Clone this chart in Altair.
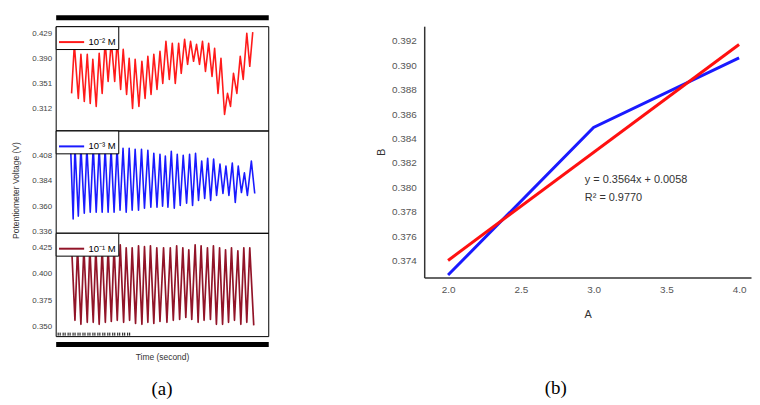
import altair as alt
import pandas as pd

# ---------------- panel (a): potentiometer voltage vs time ----------------
red_label = "10⁻² M"
red_t = [80, 94, 114, 127, 144, 159, 174, 187, 204, 219, 234, 249, 264, 280, 297, 310,
         327, 340, 357, 370, 387, 400, 419, 434, 450, 464, 480, 494, 510, 525, 539, 555,
         572, 587, 602, 619, 632, 649, 664, 679, 694, 709, 724, 739, 754, 770, 787, 800,
         817, 832, 850, 865, 880, 895, 912, 929, 944, 962, 977, 992]
red_v = [0.3354, 0.4118, 0.3276, 0.3962, 0.3229, 0.3962, 0.3198, 0.3884, 0.3151, 0.3978,
         0.3354, 0.4165, 0.3541, 0.4165, 0.3541, 0.4196, 0.3416, 0.4040, 0.3338, 0.3900,
         0.3120, 0.3884, 0.3151, 0.3853, 0.3276, 0.3931, 0.3338, 0.3962, 0.3416, 0.4009,
         0.3510, 0.4165, 0.3572, 0.4134, 0.3510, 0.4134, 0.3666, 0.4196, 0.3806, 0.4165,
         0.3853, 0.4118, 0.3806, 0.4165, 0.3697, 0.4134, 0.3619, 0.4056, 0.3354, 0.3900,
         0.3026, 0.3354, 0.3151, 0.3666, 0.3354, 0.3931, 0.3572, 0.4290, 0.3775, 0.4306]

blue_label = "10⁻³ M"
blue_t = [75, 88, 97, 114, 127, 144, 157, 174, 189, 204, 219, 234, 249, 264, 279, 294,
          309, 324, 339, 355, 370, 385, 400, 417, 432, 447, 464, 479, 494, 510, 525, 538,
          552, 565, 582, 597, 612, 627, 642, 659, 674, 689, 704, 719, 735, 750, 765, 780,
          795, 810, 827, 842, 857, 872, 889, 904, 919, 935, 950, 965, 985, 1002]
blue_v = [0.4163, 0.3480, 0.4163, 0.3508, 0.4163, 0.3535, 0.4154, 0.3545, 0.4163, 0.3545,
          0.4154, 0.3545, 0.4145, 0.3545, 0.4145, 0.3545, 0.4154, 0.3563, 0.4145, 0.3545,
          0.4145, 0.3563, 0.4135, 0.3563, 0.4135, 0.3582, 0.4126, 0.3591, 0.4098, 0.3591,
          0.4089, 0.3600, 0.4071, 0.3591, 0.4117, 0.3582, 0.4089, 0.3609, 0.4080, 0.3628,
          0.4089, 0.3609, 0.4098, 0.3655, 0.4025, 0.3674, 0.4052, 0.3655, 0.4043, 0.3702,
          0.3997, 0.3720, 0.3978, 0.3702, 0.4006, 0.3637, 0.3978, 0.3729, 0.3914, 0.3702,
          0.4025, 0.3720]

dred_label = "10⁻¹ M"
dred_t = [80, 97, 110, 127, 142, 159, 172, 189, 202, 219, 234, 250, 264, 280, 294, 310,
          325, 342, 355, 372, 385, 402, 417, 434, 447, 464, 477, 494, 509, 525, 543, 560,
          577, 592, 609, 624, 640, 655, 670, 685, 702, 717, 732, 747, 764, 779, 794, 809,
          825, 840, 855, 870, 885, 900, 917, 932, 947, 962, 977, 997]
dred_v = [0.4269, 0.3556, 0.4250, 0.3518, 0.4250, 0.3537, 0.4250, 0.3537, 0.4250, 0.3518,
          0.4250, 0.3537, 0.4250, 0.3546, 0.4269, 0.3556, 0.4279, 0.3537, 0.4250, 0.3556,
          0.4250, 0.3527, 0.4269, 0.3518, 0.4260, 0.3537, 0.4269, 0.3527, 0.4250, 0.3546,
          0.4250, 0.3537, 0.4250, 0.3556, 0.4269, 0.3565, 0.4250, 0.3584, 0.4231, 0.3565,
          0.4279, 0.3537, 0.4269, 0.3556, 0.4250, 0.3565, 0.4269, 0.3518, 0.4250, 0.3518,
          0.4231, 0.3537, 0.4250, 0.3556, 0.4221, 0.3518, 0.4250, 0.3537, 0.4250, 0.3508]

red_ticks = [0.312, 0.351, 0.390, 0.429]
blue_ticks = [0.336, 0.360, 0.384, 0.408]
dred_ticks = [0.350, 0.375, 0.400, 0.425]
inner_tick_t = [10, 22, 35, 47, 60, 72, 85, 97, 110, 122, 135, 147, 160, 172, 185,
                197, 210, 222, 235, 247, 260, 272, 285, 297, 310, 322, 335, 347, 360, 372]

# ---------------- panel (b): B vs A ----------------
b_blue_a = [2.0, 3.0, 4.0]
b_blue_b = [0.3728, 0.3849, 0.3906]
b_fit_a = [2.0, 4.0]
b_fit_b = [0.3740, 0.3917]
b_xticks = [2.0, 2.5, 3.0, 3.5, 4.0]
b_yticks = [0.374, 0.376, 0.378, 0.380, 0.382, 0.384, 0.386, 0.388, 0.390, 0.392]
annot_a = [2.94, 2.94]
annot_b = [0.3806, 0.3791]
annot_txt = ["y = 0.3564x + 0.0058", "R² = 0.9770"]

SANS = "Liberation Sans"
PW = 214


def legend():
    return alt.Legend(orient="top-left", offset=0, title=None, symbolType="stroke",
                      symbolSize=640, symbolStrokeWidth=2, labelFontSize=9.5, labelFont=SANS,
                      labelColor="black", strokeColor="black", fillColor="white",
                      padding=2, labelOffset=3, cornerRadius=0)


def yaxis(vals, title, title_y=None):
    kw = dict(values=vals, format=".3f", ticks=False, grid=False, domain=False,
              labelFontSize=8, labelFont=SANS, labelColor="#444", labelPadding=4,
              labelOverlap=False, minExtent=30, maxExtent=30, title=title,
              titleFontSize=8.5, titleFont=SANS, titleFontWeight="normal",
              titlePadding=5, titleColor="#333")
    if title_y is not None:
        kw["titleY"] = title_y
    return alt.Axis(**kw)


def panel_enc(chart, label, color, ydom, yvals, ytitle, xaxis, title_y=None):
    return chart.encode(
        x=alt.X("t:Q", scale=alt.Scale(domain=[0, 1070], nice=False, zero=False), axis=xaxis),
        y=alt.Y("v:Q", scale=alt.Scale(domain=ydom, nice=False, zero=False),
                axis=yaxis(yvals, ytitle, title_y)),
        color=alt.Color("s:N", scale=alt.Scale(domain=[label], range=[color]), legend=legend()),
    )


FRAME = alt.ViewBackground(stroke="black", strokeWidth=1)

bar_top = alt.Axis(orient="top", offset=9, domainWidth=5, domainColor="black", ticks=False,
                   labels=False, grid=False, title=None)

df_r = pd.DataFrame({"t": red_t, "v": red_v, "s": red_label})
top = panel_enc(alt.Chart(df_r).mark_line(strokeWidth=1.6, clip=True, strokeJoin="round"),
                red_label, "#ff1a1a", [0.2777, 0.4399], red_ticks, "", bar_top
                ).properties(width=PW, height=105, view=FRAME)

df_b = pd.DataFrame({"t": blue_t, "v": blue_v, "s": blue_label})
mid = panel_enc(alt.Chart(df_b).mark_line(strokeWidth=1.6, clip=True, strokeJoin="round"),
                blue_label, "#1a1aff", [0.3351, 0.4312], blue_ticks,
                "Potentiometer Voltage (V)", None, title_y=60
                ).properties(width=PW, height=103, view=FRAME)

df_d = pd.DataFrame({"t": dred_t, "v": dred_v, "s": dred_label})
bar_bottom = alt.Axis(orient="bottom", offset=8, domainWidth=5, domainColor="black",
                      ticks=False, labels=False, grid=False, title="Time (second)",
                      titleFontSize=8.5, titleFont=SANS, titleFontWeight="normal",
                      titleColor="#333", titlePadding=9)
inner_ticks = alt.Axis(orient="bottom", offset=-4, domain=False, labels=False, grid=False,
                       ticks=True, tickSize=3, tickColor="black", tickWidth=1,
                       values=inner_tick_t, title=None)
bot_line = panel_enc(alt.Chart(df_d).mark_line(strokeWidth=1.7, clip=True, strokeJoin="round"),
                     dred_label, "#921428", [0.3405, 0.4393], dred_ticks, "", bar_bottom)
bot_ticks = alt.Chart(df_d).mark_line(strokeOpacity=0, clip=True).encode(
    x=alt.X("t:Q", scale=alt.Scale(domain=[0, 1070], nice=False, zero=False), axis=inner_ticks),
    y=alt.Y("v:Q", scale=alt.Scale(domain=[0.3405, 0.4393], nice=False, zero=False),
            axis=yaxis(dred_ticks, "")),
)
bot = alt.layer(bot_line, bot_ticks).resolve_axis(x="independent").properties(
    width=PW, height=104, view=FRAME,
    title=alt.TitleParams("(a)", orient="bottom", font="Liberation Serif", fontSize=19,
                          fontWeight="normal", color="black", anchor="middle", frame="group",
                          offset=19))

left = alt.vconcat(top, mid, bot, spacing=0, bounds="flush").resolve_scale(color="independent")

# ---------------- right chart ----------------
xs = alt.Scale(domain=[1.836, 4.082], nice=False, zero=False)
ys = alt.Scale(domain=[0.3726, 0.3932], nice=False, zero=False)
xax = alt.Axis(values=b_xticks, format=".1f", ticks=False, grid=False, domainColor="#333",
               domainWidth=1.5, labelFontSize=10, labelFont=SANS, labelColor="#555",
               labelPadding=7, labelOverlap=False, title="A", titleFontSize=11, titleFont=SANS,
               titleFontWeight="normal", titleColor="#333", titlePadding=14)
yax = alt.Axis(values=b_yticks, format=".3f", ticks=False, grid=False, domainColor="#333",
               domainWidth=1.5, labelFontSize=10, labelFont=SANS, labelColor="#555",
               labelPadding=8, labelOverlap=False, title="B", titleFontSize=11, titleFont=SANS,
               titleFontWeight="normal", titleColor="#333", titlePadding=5)

df_bb = pd.DataFrame({"A": b_blue_a, "B": b_blue_b})
df_bf = pd.DataFrame({"A": b_fit_a, "B": b_fit_b})
df_an = pd.DataFrame({"A": annot_a, "B": annot_b, "txt": annot_txt})

blue_l = alt.Chart(df_bb).mark_line(color="#1a1aff", strokeWidth=3).encode(
    x=alt.X("A:Q", scale=xs, axis=xax), y=alt.Y("B:Q", scale=ys, axis=yax))
fit_l = alt.Chart(df_bf).mark_line(color="#ff1010", strokeWidth=3).encode(
    x=alt.X("A:Q", scale=xs, axis=xax), y=alt.Y("B:Q", scale=ys, axis=yax))
ann = alt.Chart(df_an).mark_text(align="left", baseline="middle", fontSize=11, font=SANS,
                                 color="#333").encode(
    x=alt.X("A:Q", scale=xs, axis=xax), y=alt.Y("B:Q", scale=ys, axis=yax), text="txt:N")

right = alt.layer(blue_l, fit_l, ann).properties(
    width=329, height=253, view=alt.ViewBackground(stroke="transparent"),
    title=alt.TitleParams("(b)", orient="bottom", font="Liberation Serif", fontSize=19,
                          fontWeight="normal", color="black", anchor="middle", frame="group",
                          dx=-32, offset=60))

chart = alt.hconcat(left, right, spacing=106).properties(
    padding={"left": 3, "top": 7, "right": 0, "bottom": 0}
).configure(background="white")

chart.save("out.html", embed_options={"renderer": "svg", "actions": False})
